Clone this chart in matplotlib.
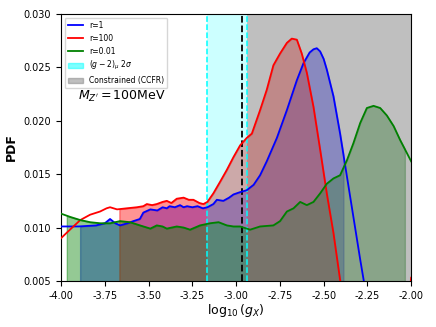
import numpy as np
import matplotlib
matplotlib.use("Agg")
import matplotlib.pyplot as plt
from matplotlib.lines import Line2D
from matplotlib.patches import Patch

# ---------------------------------------------------------
# data
# ---------------------------------------------------------
x_blue = [-4.0, -3.9, -3.8, -3.75, -3.72, -3.69, -3.663, -3.62, -3.587, -3.55, -3.53,
          -3.49, -3.45, -3.42, -3.396, -3.38, -3.35, -3.32, -3.30, -3.28, -3.25, -3.22,
          -3.19, -3.164, -3.13, -3.11, -3.073, -3.04, -3.015, -2.98, -2.939, -2.90,
          -2.863, -2.825, -2.767, -2.71, -2.653, -2.615, -2.58, -2.558, -2.539, -2.52,
          -2.50, -2.482, -2.444, -2.406, -2.367, -2.33, -2.291, -2.25, -2.2, -2.1, -2.0]
y_blue = [0.0101, 0.0101, 0.0102, 0.0104, 0.0108, 0.0104, 0.0102, 0.0104, 0.0106, 0.0108, 0.0114,
          0.0117, 0.0116, 0.0119, 0.0118, 0.0120, 0.0119, 0.0121, 0.0119, 0.0120, 0.0119, 0.0120,
          0.0118, 0.0119, 0.0122, 0.0126, 0.0125, 0.0128, 0.0131, 0.0133, 0.0135, 0.0140,
          0.0149, 0.0162, 0.0184, 0.0210, 0.0238, 0.0254, 0.0264, 0.0267, 0.0268, 0.0265,
          0.0258, 0.0248, 0.0223, 0.0188, 0.0148, 0.0110, 0.0070, 0.0030, 0.0, 0.0, 0.0]

x_red = [-4.0, -3.949, -3.89, -3.834, -3.777, -3.74, -3.72, -3.68, -3.625, -3.567, -3.53,
         -3.51, -3.48, -3.453, -3.42, -3.396, -3.37, -3.339, -3.30, -3.27, -3.244, -3.21,
         -3.187, -3.164, -3.13, -3.091, -3.053, -3.015, -2.977, -2.939, -2.91, -2.863,
         -2.825, -2.787, -2.749, -2.71, -2.682, -2.653, -2.625, -2.596, -2.558, -2.52,
         -2.482, -2.444, -2.406, -2.35, -2.2, -2.05, -2.008, -2.0]
y_red = [0.0090, 0.0098, 0.0107, 0.0112, 0.0115, 0.0118, 0.0119, 0.0117, 0.0118, 0.0119, 0.0120,
         0.0122, 0.0121, 0.0122, 0.0124, 0.0125, 0.0123, 0.0127, 0.0128, 0.0126, 0.0126, 0.0123,
         0.0122, 0.0124, 0.0132, 0.0143, 0.0154, 0.0166, 0.0177, 0.0184, 0.0188, 0.0210,
         0.0229, 0.0252, 0.0263, 0.0273, 0.0277, 0.0276, 0.0263, 0.0245, 0.0213, 0.0173,
         0.0132, 0.0095, 0.0051, 0.0, 0.0, 0.0, 0.0040, 0.0053]

x_green = [-4.0, -3.949, -3.89, -3.834, -3.777, -3.72, -3.663, -3.606, -3.549, -3.49, -3.453,
           -3.42, -3.396, -3.339, -3.30, -3.263, -3.206, -3.149, -3.10, -3.053, -3.015, -2.977,
           -2.92, -2.863, -2.787, -2.749, -2.71, -2.672, -2.634, -2.596, -2.558, -2.52, -2.482,
           -2.444, -2.406, -2.367, -2.33, -2.291, -2.253, -2.215, -2.177, -2.139, -2.10,
           -2.063, -2.025, -2.0]
y_green = [0.0113, 0.0110, 0.0107, 0.0105, 0.0104, 0.0104, 0.0106, 0.0105, 0.0102, 0.0099, 0.0102,
           0.0101, 0.0099, 0.0101, 0.0100, 0.0098, 0.0102, 0.0104, 0.0105, 0.0102, 0.0101, 0.0101,
           0.0098, 0.0101, 0.0102, 0.0106, 0.0115, 0.0118, 0.0124, 0.0121, 0.0124, 0.0132, 0.0141,
           0.0146, 0.0149, 0.0163, 0.0179, 0.0198, 0.0212, 0.0214, 0.0212, 0.0205, 0.0195,
           0.0182, 0.0170, 0.0162]

# shaded interval of each curve
band_blue = (-3.891, -2.387)
band_red = (-3.667, -2.406)
band_green = (-3.967, -2.036)

g2_band = (-3.164, -2.939)   # (g-2)_mu 2 sigma
g2_central = -2.964
ccfr_band = (-2.939, -2.0)

series = [
    ("r=1", x_blue, y_blue, band_blue, "blue"),
    ("r=100", x_red, y_red, band_red, "red"),
    ("r=0.01", x_green, y_green, band_green, "green"),
]


def fill_part(ax, x, y, lo, hi, color):
    x = np.asarray(x)
    y = np.asarray(y)
    mask = (x > lo) & (x < hi)
    xf = np.concatenate([[lo], x[mask], [hi]])
    yf = np.interp(xf, x, y)
    ax.fill_between(xf, 0, yf, color=color, alpha=0.42, zorder=1)


fig = plt.figure(figsize=(4.36, 3.27), dpi=100)
ax = fig.add_axes([0.14, 0.141, 0.803, 0.816])

for label, x, y, (lo, hi), c in series:
    fill_part(ax, x, y, lo, hi, c)

ax.axvspan(*g2_band, color="cyan", alpha=0.2, lw=0, zorder=2)
ax.axvspan(*ccfr_band, color="gray", alpha=0.5, lw=0, zorder=2)
for xv in g2_band:
    ax.axvline(xv, color="cyan", ls="--", lw=1.1, zorder=3)
ax.axvline(g2_central, color="black", ls="--", lw=1.3, zorder=3)

for label, x, y, band, c in series:
    ax.plot(x, y, color=c, lw=1.3, zorder=4)

ax.text(-3.905, 0.0223, r"$M_{Z'} = 100$MeV", fontsize=9, va="center", zorder=5)

ax.set_xlim(-4.0, -2.0)
ax.set_ylim(0.005, 0.030)
ax.set_xticks(np.arange(-4.0, -1.99, 0.25))
ax.xaxis.set_major_formatter(matplotlib.ticker.FormatStrFormatter("%.2f"))
ax.yaxis.set_major_formatter(matplotlib.ticker.FormatStrFormatter("%.3f"))
ax.tick_params(labelsize=7)
ax.set_xlabel(r"$\log_{10}(g_X)$", fontsize=9, labelpad=1)
ax.set_ylabel("PDF", fontsize=9, fontweight="bold")

handles = [
    Line2D([], [], color="blue", lw=1.3),
    Line2D([], [], color="red", lw=1.3),
    Line2D([], [], color="green", lw=1.3),
    Patch(color="cyan", alpha=0.5),
    Patch(color="gray", alpha=0.5),
]
labels = ["r=1", "r=100", "r=0.01", r"$(g-2)_\mu\ 2\sigma$", "Constrained (CCFR)"]
ax.legend(handles, labels, loc="upper left", fontsize=5.5)

fig.savefig("out.png", dpi=100)
